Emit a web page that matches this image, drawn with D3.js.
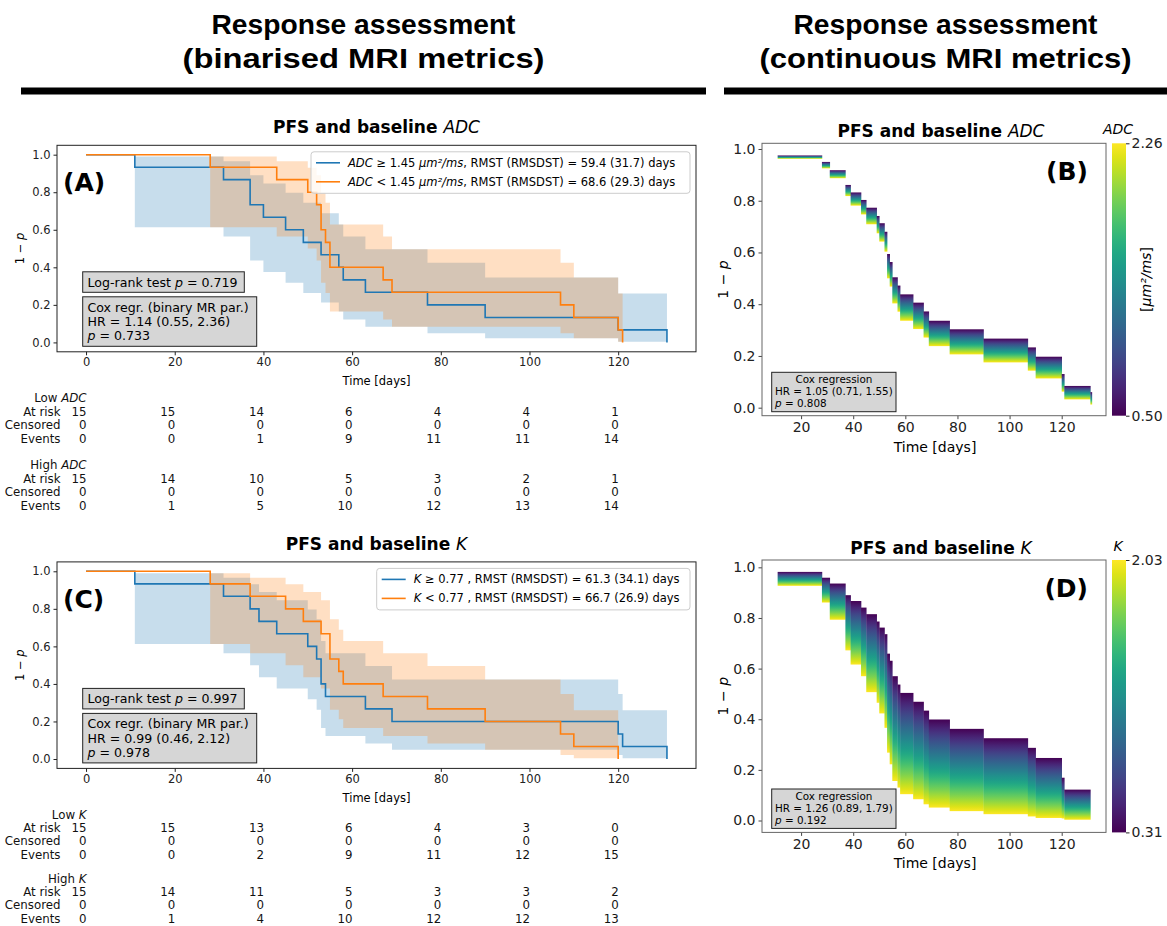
<!DOCTYPE html>
<html><head><meta charset="utf-8">
<script src="https://cdn.jsdelivr.net/npm/d3@7"></script>
<style>body{margin:0;background:#fff;} svg{display:block;font-family:"DejaVu Sans",sans-serif;}</style>
</head><body><script>
// ---------------- DATA ----------------
const timeTicks = [0, 20, 40, 60, 80, 100, 120];
const contTimeTicks = [20, 40, 60, 80, 100, 120];
const survTicks = [0, 0.2, 0.4, 0.6, 0.8, 1.0];

// Panel A (binarised ADC)
const adcHighTimes = [0, 11, 31, 37, 40, 45, 49, 53, 57, 58, 63, 77, 90, 120, 131];
const adcHighSurv  = [1, 0.933, 0.867, 0.733, 0.667, 0.6, 0.533, 0.467, 0.4, 0.333, 0.267, 0.2, 0.133, 0.067, 0];
const adcHighLower = [1, 0.613, 0.564, 0.436, 0.375, 0.318, 0.263, 0.212, 0.165, 0.122, 0.083, 0.049, 0.022, 0.004, null];
const adcHighUpper = [1, 0.990, 0.965, 0.890, 0.846, 0.797, 0.744, 0.688, 0.628, 0.564, 0.496, 0.424, 0.346, 0.260, null];
const adcLowTimes  = [0, 28, 43, 50, 52, 53, 54, 55, 67, 69, 107, 110, 120, 121];
const adcLowSurv   = [1, 0.933, 0.867, 0.8, 0.733, 0.6, 0.533, 0.4, 0.333, 0.267, 0.2, 0.133, 0.067, 0];
const adcLowLower  = [1, 0.613, 0.564, 0.5, 0.436, 0.318, 0.263, 0.165, 0.122, 0.083, 0.049, 0.022, 0.004, null];
const adcLowUpper  = [1, 0.990, 0.965, 0.931, 0.890, 0.797, 0.744, 0.628, 0.564, 0.496, 0.424, 0.346, 0.260, null];

// Panel C (binarised K)
const kHighTimes = [0, 11, 31, 37, 39, 43, 50, 52, 53, 54, 63, 69, 120, 121, 131];
const kHighSurv  = [1, 0.933, 0.867, 0.8, 0.733, 0.667, 0.6, 0.533, 0.4, 0.333, 0.267, 0.2, 0.133, 0.067, 0];
const kHighLower = [1, 0.613, 0.564, 0.5, 0.436, 0.375, 0.318, 0.263, 0.165, 0.122, 0.083, 0.049, 0.022, 0.004, null];
const kHighUpper = [1, 0.990, 0.965, 0.931, 0.890, 0.846, 0.797, 0.744, 0.628, 0.564, 0.496, 0.424, 0.346, 0.260, null];
const kLowTimes  = [0, 28, 37, 45, 49, 53, 55, 57, 58, 67, 77, 90, 107, 110, 120];
const kLowSurv   = [1, 0.933, 0.867, 0.8, 0.733, 0.667, 0.533, 0.467, 0.4, 0.333, 0.267, 0.2, 0.133, 0.067, 0];
const kLowLower  = [1, 0.613, 0.564, 0.5, 0.436, 0.375, 0.263, 0.212, 0.165, 0.122, 0.083, 0.049, 0.022, 0.004, null];
const kLowUpper  = [1, 0.990, 0.965, 0.931, 0.890, 0.846, 0.744, 0.688, 0.628, 0.564, 0.496, 0.424, 0.346, 0.260, null];

// At-risk tables
const adcLowAtRisk = [15, 15, 14, 6, 4, 4, 1];
const adcLowCensored = [0, 0, 0, 0, 0, 0, 0];
const adcLowEvents = [0, 0, 1, 9, 11, 11, 14];
const adcHighAtRisk = [15, 14, 10, 5, 3, 2, 1];
const adcHighCensored = [0, 0, 0, 0, 0, 0, 0];
const adcHighEvents = [0, 1, 5, 10, 12, 13, 14];
const kLowAtRisk = [15, 15, 13, 6, 4, 3, 0];
const kLowCensored = [0, 0, 0, 0, 0, 0, 0];
const kLowEvents = [0, 0, 2, 9, 11, 12, 15];
const kHighAtRisk = [15, 14, 11, 5, 3, 3, 2];
const kHighCensored = [0, 0, 0, 0, 0, 0, 0];
const kHighEvents = [0, 1, 4, 10, 12, 12, 13];

// Panels B and D (continuous covariate, envelope of predicted curves)
const contTimes = [11, 28, 31, 37, 39, 43, 45, 49, 50, 52, 53, 54, 55, 57, 58, 63, 67, 69, 77, 90, 107, 110, 120, 121, 131];
const adcContTop    = [0.975, 0.950, 0.918, 0.861, 0.832, 0.803, 0.773, 0.741, 0.713, 0.680, 0.594, 0.563, 0.504, 0.472, 0.438, 0.406, 0.372, 0.336, 0.303, 0.267, 0.233, 0.197, 0.130, 0.084, 0.060];
const adcContBottom = [0.962, 0.925, 0.887, 0.818, 0.781, 0.747, 0.709, 0.674, 0.642, 0.603, 0.500, 0.468, 0.403, 0.371, 0.336, 0.304, 0.271, 0.238, 0.206, 0.175, 0.143, 0.113, 0.062, 0.032, 0.012];
const kContTop    = [0.982, 0.959, 0.936, 0.890, 0.867, 0.841, 0.815, 0.786, 0.762, 0.736, 0.659, 0.631, 0.570, 0.537, 0.504, 0.469, 0.434, 0.399, 0.362, 0.325, 0.287, 0.247, 0.169, 0.122];
const kContBottom = [0.927, 0.861, 0.793, 0.672, 0.616, 0.570, 0.507, 0.465, 0.423, 0.366, 0.268, 0.222, 0.156, 0.130, 0.104, 0.084, 0.064, 0.051, 0.037, 0.025, 0.016, 0.010, 0.008, 0.003];
const adcRange = [0.50, 2.26];
const kRange = [0.31, 2.03];

// ---------------- DRAWING ----------------
const W = 1167, H = 926;
const FONT = '"DejaVu Sans", sans-serif';
const BLUE = "#1f77b4", ORANGE = "#ff7f0e";
const svg = d3.select("body").append("svg").attr("width", W).attr("height", H)
  .attr("font-family", FONT);
const defs = svg.append("defs");
function addGrad(id, topLow) {
  const g = defs.append("linearGradient").attr("id", id)
    .attr("x1", 0).attr("y1", 0).attr("x2", 0).attr("y2", 1);
  d3.range(0, 1.0001, 0.05).forEach(s => g.append("stop").attr("offset", s)
    .attr("stop-color", d3.interpolateViridis(topLow ? s : 1 - s)));
}
addGrad("bandGrad", true);
addGrad("cbGrad", false);

function rich(t, parts) {
  parts.forEach(p => {
    const [s, st] = Array.isArray(p) ? p : [p, ""];
    const ts = t.append("tspan").text(s);
    if (st.includes("i")) ts.attr("font-style", "italic").attr("font-weight", "normal");
    if (st.includes("b")) ts.attr("font-weight", "bold");
  });
  return t;
}

// Headers
const headers = [
  { lines: ["Response assessment", "(binarised MRI metrics)"], widths: [304, 362], x0: 21, x1: 706 },
  { lines: ["Response assessment", "(continuous MRI metrics)"], widths: [304, 372], x0: 724, x1: 1167 }
];
headers.forEach(h => {
  const cx = (h.x0 + h.x1) / 2;
  h.lines.forEach((ln, i) => svg.append("text").attr("x", cx).attr("y", 34 + i * 34)
    .attr("text-anchor", "middle").attr("font-family", '"Liberation Sans", Arial, sans-serif')
    .attr("font-weight", "bold").attr("font-size", 28)
    .attr("textLength", h.widths[i]).attr("lengthAdjust", "spacingAndGlyphs").text(ln));
  svg.append("rect").attr("x", h.x0).attr("y", 87.5).attr("width", h.x1 - h.x0).attr("height", 7).attr("fill", "#000");
});

function kmPanel(cfg) {
  const g = svg.append("g");
  const L = 57, R = 696, T = cfg.top, B = cfg.top + 206.5;
  const x = d3.scaleLinear().domain([-6.55, 137.55]).range([L, R]);
  const y = d3.scaleLinear().domain([-0.05, 1.05]).range([B, T]);
  cfg.groups.forEach(gr => {
    const pts = [];
    gr.times.forEach((t, i) => {
      if (i === gr.times.length - 1 || gr.lower[i] == null) return;
      pts.push({ t, lo: gr.lower[i], hi: gr.upper[i] });
      pts.push({ t: gr.times[i + 1], lo: gr.lower[i], hi: gr.upper[i] });
    });
    g.append("path").datum(pts).attr("fill", gr.color).attr("fill-opacity", 0.25)
      .attr("d", d3.area().x(d => x(d.t)).y0(d => y(d.lo)).y1(d => y(d.hi)));
  });
  cfg.groups.forEach(gr => {
    g.append("path").datum(gr.times.map((t, i) => [t, gr.surv[i]]))
      .attr("fill", "none").attr("stroke", gr.color).attr("stroke-width", 1.6)
      .attr("d", d3.line().x(d => x(d[0])).y(d => y(d[1])).curve(d3.curveStepAfter));
  });
  // axes
  const ax = g.append("g").attr("transform", `translate(0,${B})`)
    .call(d3.axisBottom(x).tickValues(timeTicks).tickFormat(d3.format("d")).tickSize(3.5).tickPadding(3));
  const ay = g.append("g").attr("transform", `translate(${L},0)`)
    .call(d3.axisLeft(y).tickValues(survTicks).tickFormat(d3.format(".1f")).tickSize(3.5).tickPadding(3));
  [ax, ay].forEach(a => { a.select(".domain").remove();
    a.selectAll("text").attr("font-size", 11.5).attr("font-family", FONT).attr("fill", "#222");
    a.selectAll("line").attr("stroke", "#222"); });
  g.append("rect").attr("x", L).attr("y", T).attr("width", R - L).attr("height", B - T)
    .attr("fill", "none").attr("stroke", "#222").attr("stroke-width", 1);
  // title
  rich(g.append("text").attr("x", (L + R) / 2).attr("y", T - 12).attr("text-anchor", "middle")
    .attr("font-weight", "bold").attr("font-size", 17), ["PFS and baseline ", [cfg.var, "i"]]);
  rich(g.append("text").attr("transform", `translate(20,${(T + B) / 2}) rotate(-90)`)
    .attr("text-anchor", "middle").attr("dominant-baseline", "central").attr("font-size", 11.5), ["1 − ", ["p", "i"]]);
  g.append("text").attr("x", (L + R) / 2).attr("y", B + 29.5).attr("text-anchor", "middle")
    .attr("dominant-baseline", "central").attr("font-size", 11.5).text("Time [days]");
  g.append("text").attr("x", 63).attr("y", T + 46).attr("font-weight", "bold").attr("font-size", 25).text(cfg.label);
  // legend
  const lg = g.append("g");
  lg.append("rect").attr("x", cfg.legX).attr("y", T + 6.5).attr("width", 690 - cfg.legX).attr("height", 41.5)
    .attr("rx", 3).attr("fill", "#fff").attr("fill-opacity", 0.8).attr("stroke", "#ccc");
  cfg.groups.forEach((gr, i) => {
    const yy = T + 17.5 + i * 19;
    lg.append("line").attr("x1", cfg.legX + 5).attr("x2", cfg.legX + 29).attr("y1", yy).attr("y2", yy)
      .attr("stroke", gr.color).attr("stroke-width", 1.6);
    rich(lg.append("text").attr("x", cfg.legX + 37).attr("y", yy).attr("dominant-baseline", "central")
      .attr("font-size", 11.5), gr.legend);
  });
  // stat boxes
  const b1 = g.append("g");
  b1.append("rect").attr("x", 82.7).attr("y", T + 126.5).attr("width", 161.6).attr("height", 20.5)
    .attr("fill", "#d6d6d6").attr("stroke", "#222");
  rich(b1.append("text").attr("x", 87.5).attr("y", T + 136.5).attr("dominant-baseline", "central")
    .attr("font-size", 12.6), ["Log-rank test ", ["p", "i"], " = " + cfg.logrank]);
  b1.append("rect").attr("x", 82.7).attr("y", T + 151.5).attr("width", 174).attr("height", 49.5)
    .attr("fill", "#d6d6d6").attr("stroke", "#222");
  const coxLines = [["Cox regr. (binary MR par.)"], ["HR = " + cfg.hr], [["p", "i"], " = " + cfg.coxp]];
  coxLines.forEach((ln, i) => rich(b1.append("text").attr("x", 87.5).attr("y", T + 161.5 + i * 14.2)
    .attr("dominant-baseline", "central").attr("font-size", 12.6), ln));
  // at-risk table
  const tb = g.append("g").attr("font-size", 11.8).attr("fill", "#111");
  cfg.table.forEach((grp, gi) => {
    const y0 = B + cfg.tableOffsets[gi];
    rich(tb.append("text").attr("x", x(0) + 0.5).attr("y", y0).attr("text-anchor", "end")
      .attr("dominant-baseline", "central"), grp.name);
    grp.rows.forEach((row, ri) => {
      const yy = y0 + cfg.rowStep * (ri + 1);
      tb.append("text").attr("x", x(0) - 25.5).attr("y", yy).attr("text-anchor", "end")
        .attr("dominant-baseline", "central").text(row[0]);
      row[1].forEach((v, ci) => tb.append("text").attr("x", x(timeTicks[ci]) + 0.5).attr("y", yy)
        .attr("text-anchor", "end").attr("dominant-baseline", "central").text(v));
    });
  });
}

kmPanel({
  top: 145.3, label: "(A)", var: "ADC", legX: 311, logrank: "0.719", hr: "1.14 (0.55, 2.36)", coxp: "0.733",
  tableOffsets: [46.5, 113.5], rowStep: 13.5,
  groups: [
    { times: adcHighTimes, surv: adcHighSurv, lower: adcHighLower, upper: adcHighUpper, color: BLUE,
      legend: [["ADC", "i"], " ≥ 1.45 ", ["μm²/ms", "i"], ", RMST (RMSDST) = 59.4 (31.7) days"] },
    { times: adcLowTimes, surv: adcLowSurv, lower: adcLowLower, upper: adcLowUpper, color: ORANGE,
      legend: [["ADC", "i"], " < 1.45 ", ["μm²/ms", "i"], ", RMST (RMSDST) = 68.6 (29.3) days"] }
  ],
  table: [
    { name: ["Low ", ["ADC", "i"]], rows: [["At risk", adcLowAtRisk], ["Censored", adcLowCensored], ["Events", adcLowEvents]] },
    { name: ["High ", ["ADC", "i"]], rows: [["At risk", adcHighAtRisk], ["Censored", adcHighCensored], ["Events", adcHighEvents]] }
  ]
});
kmPanel({
  top: 561.9, label: "(C)", var: "K", legX: 376.7, logrank: "0.997", hr: "0.99 (0.46, 2.12)", coxp: "0.978",
  tableOffsets: [46.5, 110.5], rowStep: 13.2,
  groups: [
    { times: kHighTimes, surv: kHighSurv, lower: kHighLower, upper: kHighUpper, color: BLUE,
      legend: [["K", "i"], " ≥ 0.77 , RMST (RMSDST) = 61.3 (34.1) days"] },
    { times: kLowTimes, surv: kLowSurv, lower: kLowLower, upper: kLowUpper, color: ORANGE,
      legend: [["K", "i"], " < 0.77 , RMST (RMSDST) = 66.7 (26.9) days"] }
  ],
  table: [
    { name: ["Low ", ["K", "i"]], rows: [["At risk", kLowAtRisk], ["Censored", kLowCensored], ["Events", kLowEvents]] },
    { name: ["High ", ["K", "i"]], rows: [["At risk", kHighAtRisk], ["Censored", kHighCensored], ["Events", kHighEvents]] }
  ]
});

function coxPanel(cfg) {
  const g = svg.append("g");
  const L = 762, R = 1106, T = cfg.top, B = cfg.top + 272.4;
  const x = d3.scaleLinear().domain([5, 137]).range([L, R]);
  const y = d3.scaleLinear().domain(cfg.yDomain).range([B, T]);
  cfg.tops.forEach((tv, i) => {
    const x0 = x(contTimes[i]);
    const x1 = i + 1 < contTimes.length ? x(contTimes[i + 1]) : x0 + 1.5;
    g.append("rect").attr("x", x0).attr("width", x1 - x0 + 0.3)
      .attr("y", y(tv)).attr("height", y(cfg.bottoms[i]) - y(tv)).attr("fill", "url(#bandGrad)");
  });
  const ax = g.append("g").attr("transform", `translate(0,${B})`)
    .call(d3.axisBottom(x).tickValues(contTimeTicks).tickFormat(d3.format("d")).tickSize(3.5).tickPadding(3));
  const ay = g.append("g").attr("transform", `translate(${L},0)`)
    .call(d3.axisLeft(y).tickValues(survTicks).tickFormat(d3.format(".1f")).tickSize(3.5).tickPadding(3));
  [ax, ay].forEach(a => { a.select(".domain").remove();
    a.selectAll("text").attr("font-size", 14).attr("font-family", FONT).attr("fill", "#222");
    a.selectAll("line").attr("stroke", "#444"); });
  g.append("rect").attr("x", L).attr("y", T).attr("width", R - L).attr("height", B - T)
    .attr("fill", "none").attr("stroke", "#666").attr("stroke-width", 1);
  rich(g.append("text").attr("x", 941).attr("y", T - 6.5).attr("text-anchor", "middle")
    .attr("font-weight", "bold").attr("font-size", 17), ["PFS and baseline ", [cfg.var, "i"]]);
  rich(g.append("text").attr("transform", `translate(722.5,${(T + B) / 2}) rotate(-90)`)
    .attr("text-anchor", "middle").attr("dominant-baseline", "central").attr("font-size", 14), ["1 − ", ["p", "i"]]);
  g.append("text").attr("x", 935).attr("y", B + 31).attr("text-anchor", "middle")
    .attr("dominant-baseline", "central").attr("font-size", 14).text("Time [days]");
  g.append("text").attr("x", 1088).attr("y", T + 37).attr("text-anchor", "end")
    .attr("font-weight", "bold").attr("font-size", 25).text(cfg.label);
  // cox box
  g.append("rect").attr("x", 771.7).attr("y", B - 43.4).attr("width", 124.3).attr("height", 39.4)
    .attr("fill", "#d6d6d6").attr("stroke", "#222");
  g.append("text").attr("x", 834).attr("y", B - 36.4).attr("text-anchor", "middle")
    .attr("dominant-baseline", "central").attr("font-size", 10.4).text("Cox regression");
  g.append("text").attr("x", 775).attr("y", B - 24.7).attr("dominant-baseline", "central")
    .attr("font-size", 10.4).text("HR = " + cfg.hr);
  rich(g.append("text").attr("x", 775).attr("y", B - 12.4).attr("dominant-baseline", "central")
    .attr("font-size", 10.4), [["p", "i"], " = " + cfg.coxp]);
  // colorbar
  const cbL = 1112, cbW = 14;
  const cs = d3.scaleLinear().domain(cfg.range).range([B, T]);
  g.append("rect").attr("x", cbL).attr("y", T).attr("width", cbW).attr("height", B - T)
    .attr("fill", "url(#cbGrad)");
  const ac = g.append("g").attr("transform", `translate(${cbL + cbW},0)`)
    .call(d3.axisRight(cs).tickValues(cfg.range).tickFormat(d3.format(".2f")).tickSize(3.5).tickPadding(2));
  ac.select(".domain").remove();
  ac.selectAll("text").attr("font-size", 14).attr("font-family", FONT).attr("fill", "#222");
  ac.selectAll("line").attr("stroke", "#222");
  g.append("text").attr("x", 1118).attr("y", T - 9).attr("text-anchor", "middle")
    .attr("font-style", "italic").attr("font-size", 14).text(cfg.var);
  if (cfg.unit) {
    rich(g.append("text").attr("transform", `translate(1146,${(T + B) / 2}) rotate(-90)`)
      .attr("text-anchor", "middle").attr("dominant-baseline", "central").attr("font-size", 14),
      ["[", ["μm²/ms", "i"], "]"]);
  }
}

coxPanel({ top: 143.3, yDomain: [-0.031, 1.022], tops: adcContTop, bottoms: adcContBottom, range: adcRange,
  var: "ADC", label: "(B)", hr: "1.05 (0.71, 1.55)", coxp: "0.808", unit: true });
coxPanel({ top: 560, yDomain: [-0.047, 1.029], tops: kContTop, bottoms: kContBottom, range: kRange,
  var: "K", label: "(D)", hr: "1.26 (0.89, 1.79)", coxp: "0.192", unit: false });
</script></body></html>
